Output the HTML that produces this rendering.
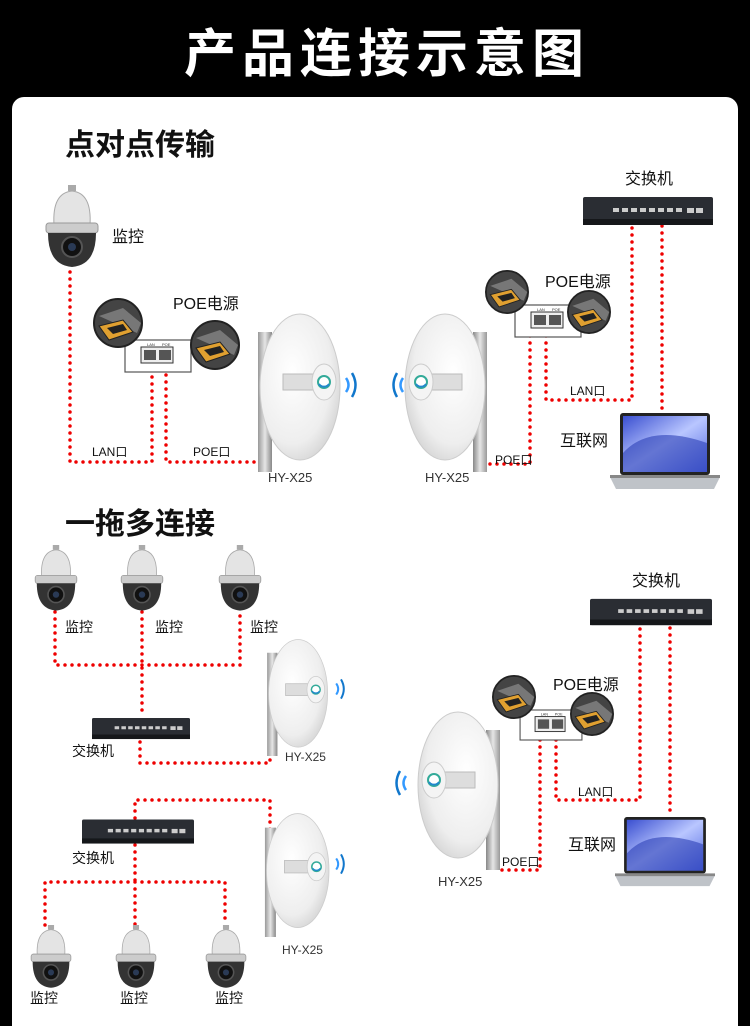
<!DOCTYPE html>
<html><head><meta charset="utf-8"><style>
html,body{margin:0;padding:0;background:#000;}
svg{display:block;}
text{font-family:"Liberation Sans","Noto Sans CJK SC",sans-serif;}
</style></head><body>
<svg width="750" height="1026" viewBox="0 0 750 1026" xmlns="http://www.w3.org/2000/svg">
<defs>
<radialGradient id="dg" cx="0.4" cy="0.4" r="0.7"><stop offset="0" stop-color="#ffffff"/><stop offset="0.7" stop-color="#eeeeee"/><stop offset="1" stop-color="#cfcfcf"/></radialGradient>
<linearGradient id="pg" x1="0" x2="1"><stop offset="0" stop-color="#999"/><stop offset="0.5" stop-color="#e6e6e6"/><stop offset="1" stop-color="#888"/></linearGradient>
<linearGradient id="scr" x1="0" y1="0" x2="1" y2="1"><stop offset="0" stop-color="#3a4fd0"/><stop offset="0.5" stop-color="#b9c6ff"/><stop offset="1" stop-color="#4f66e0"/></linearGradient>
<symbol id="cam" viewBox="0 0 60 85" overflow="visible">
<rect x="26" y="0" width="8" height="6" fill="#aaa"/>
<path d="M12 40 Q10 8 30 6 Q50 8 48 40 Z" fill="#e4e4e4" stroke="#aaa"/>
<rect x="4" y="38" width="52" height="10" rx="3" fill="#ccc" stroke="#999"/>
<path d="M6 48 Q6 80 30 82 Q54 80 54 48 Z" fill="#333"/>
<circle cx="30" cy="62" r="10" fill="#111" stroke="#555" stroke-width="2"/>
<circle cx="30" cy="62" r="4" fill="#2a3a55"/>
</symbol>
<symbol id="dish" viewBox="0 0 100 160" overflow="visible">
<rect x="0" y="20" width="14" height="140" fill="url(#pg)"/>
<ellipse cx="42" cy="75" rx="40" ry="73" fill="url(#dg)" stroke="#ccc"/>
<rect x="25" y="62" width="38" height="16" fill="#ddd" stroke="#bbb"/>
<ellipse cx="66" cy="70" rx="12" ry="18" fill="#f4f4f4" stroke="#ccc"/>
<circle cx="66" cy="70" r="6" fill="#fff" stroke="#3a9" stroke-width="2"/>
<path d="M61 72 A6 6 0 0 0 71 72" stroke="#28c" stroke-width="2" fill="none"/>
</symbol>
<symbol id="waves" viewBox="0 0 20 30" overflow="visible">
<path d="M4 8 Q9 15 4 22" stroke="#39f" stroke-width="2.5" fill="none"/>
<path d="M10 3 Q17 15 10 27" stroke="#17c" stroke-width="2.5" fill="none"/>
</symbol>
<symbol id="sw" viewBox="0 0 130 28" overflow="visible">
<rect x="0" y="0" width="130" height="28" rx="2" fill="#2a2d33"/>
<rect x="0" y="22" width="130" height="6" fill="#15171a"/>
<g fill="#ccc"><rect x="30" y="11" width="6" height="4"/><rect x="39" y="11" width="6" height="4"/><rect x="48" y="11" width="6" height="4"/><rect x="57" y="11" width="6" height="4"/><rect x="66" y="11" width="6" height="4"/><rect x="75" y="11" width="6" height="4"/><rect x="84" y="11" width="6" height="4"/><rect x="93" y="11" width="6" height="4"/><rect x="104" y="11" width="7" height="5"/><rect x="113" y="11" width="7" height="5"/></g>
</symbol>
<symbol id="lap" viewBox="0 0 110 78" overflow="visible">
<rect x="10" y="0" width="90" height="62" rx="3" fill="#222"/>
<rect x="13" y="3" width="84" height="56" fill="url(#scr)"/>
<path d="M13 40 Q40 10 97 30 L97 59 L13 59 Z" fill="#2b3fb5" opacity="0.6"/>
<path d="M0 64 L110 64 L104 76 L6 76 Z" fill="#bfc3c8"/>
<rect x="0" y="62" width="110" height="3" fill="#888"/>
</symbol>
<symbol id="poe" viewBox="0 0 66 32" overflow="visible">
<rect x="0" y="0" width="66" height="32" fill="#fff" stroke="#555" stroke-width="1.2"/>
<rect x="16" y="7" width="32" height="16" fill="#eee" stroke="#333"/>
<rect x="19" y="10" width="12" height="10" fill="#555"/><rect x="34" y="10" width="12" height="10" fill="#555"/>
<text x="22" y="6" font-size="4" fill="#333">LAN</text><text x="37" y="6" font-size="4" fill="#333">POE</text>
</symbol>
<symbol id="plug" viewBox="0 0 50 50" overflow="visible">
<circle cx="25" cy="25" r="24" fill="#444" stroke="#222" stroke-width="2"/>
<path d="M6 18 L30 10 L48 25 L44 35 Z" fill="#777"/>
<path d="M6 28 L30 22 L40 34 L16 42 Z" fill="#e0a030" stroke="#222"/>
<path d="M14 30 L30 26 L34 32 L20 36 Z" fill="#222"/>
</symbol>
</defs>

<rect width="750" height="1026" fill="#000"/>
<text x="387" y="72" font-size="52" font-weight="bold" fill="#fff" text-anchor="middle" letter-spacing="6">产品连接示意图</text>
<rect x="12" y="97" width="726" height="960" rx="12" fill="#fff"/>

<text x="65" y="155" font-size="30" font-weight="bold" fill="#111">点对点传输</text>
<text x="65" y="534" font-size="30" font-weight="bold" fill="#111">一拖多连接</text>

<g stroke="#e00" stroke-width="3.5" stroke-linecap="round" stroke-dasharray="0 7" fill="none">
<path d="M70 272 L70 462 L152 462 L152 368"/>
<path d="M166 368 L166 462 L265 462"/>
<path d="M530 336 L530 464 L485 464"/>
<path d="M546 336 L546 400 L632 400 L632 226"/>
<path d="M662 226 L662 412"/>
<path d="M55 612 L55 665 L240 665 L240 612"/>
<path d="M142 612 L142 715"/>
<path d="M140 742 L140 763 L270 763 L270 745"/>
<path d="M135 818 L135 800 L270 800 L270 830"/>
<path d="M135 845 L135 882 M45 925 L45 882 L225 882 L225 925 M135 882 L135 925"/>
<path d="M540 740 L540 870 L495 870"/>
<path d="M556 740 L556 800 L640 800 L640 628"/>
<path d="M670 628 L670 816"/>
</g>

<use href="#cam" x="42" y="185" width="60" height="85"/>
<text x="112" y="242" font-size="16" fill="#111">监控</text>
<use href="#poe" x="125" y="340" width="66" height="32"/>
<use href="#plug" x="93" y="298" width="50" height="50"/>
<use href="#plug" x="190" y="320" width="50" height="50"/>
<text x="173" y="309" font-size="16" fill="#111">POE电源</text>
<text x="92" y="456" font-size="12" fill="#111">LAN口</text>
<text x="193" y="456" font-size="12" fill="#111">POE口</text>
<use href="#dish" x="258" y="312" width="100" height="160"/>
<use href="#waves" x="342" y="370" width="20" height="30"/>
<text x="268" y="482" font-size="13" fill="#333">HY-X25</text>
<g transform="translate(487,0) scale(-1,1)"><use href="#dish" x="0" y="312" width="100" height="160"/></g>
<g transform="translate(1152,0) scale(-1,1)"><use href="#waves" x="745" y="370" width="20" height="30"/></g>
<text x="425" y="482" font-size="13" fill="#333">HY-X25</text>

<use href="#sw" x="583" y="197" width="130" height="28"/>
<text x="625" y="184" font-size="16" fill="#111">交换机</text>
<use href="#poe" x="515" y="305" width="66" height="32"/>
<use href="#plug" x="485" y="270" width="44" height="44"/>
<use href="#plug" x="567" y="290" width="44" height="44"/>
<text x="545" y="287" font-size="16" fill="#111">POE电源</text>
<text x="570" y="395" font-size="12" fill="#111">LAN口</text>
<text x="495" y="464" font-size="12" fill="#111">POE口</text>
<use href="#lap" x="610" y="413" width="110" height="78"/>
<text x="560" y="446" font-size="16" fill="#111">互联网</text>

<use href="#cam" x="32" y="545" width="48" height="68"/>
<use href="#cam" x="118" y="545" width="48" height="68"/>
<use href="#cam" x="216" y="545" width="48" height="68"/>
<text x="65" y="632" font-size="14" fill="#111">监控</text>
<text x="155" y="632" font-size="14" fill="#111">监控</text>
<text x="250" y="632" font-size="14" fill="#111">监控</text>
<use href="#sw" x="92" y="715" width="98" height="27"/>
<text x="72" y="756" font-size="14" fill="#111">交换机</text>
<use href="#dish" x="264" y="638" width="80" height="118"/>
<use href="#waves" x="333" y="677" width="16" height="24"/>
<text x="285" y="761" font-size="12" fill="#333">HY-X25</text>

<use href="#sw" x="82" y="818" width="112" height="27"/>
<text x="72" y="863" font-size="14" fill="#111">交换机</text>
<use href="#dish" x="264" y="812" width="80" height="125"/>
<use href="#waves" x="333" y="852" width="16" height="24"/>
<text x="282" y="954" font-size="12" fill="#333">HY-X25</text>
<use href="#cam" x="28" y="925" width="46" height="65"/>
<use href="#cam" x="113" y="925" width="46" height="65"/>
<use href="#cam" x="203" y="925" width="46" height="65"/>
<text x="30" y="1003" font-size="14" fill="#111">监控</text>
<text x="120" y="1003" font-size="14" fill="#111">监控</text>
<text x="215" y="1003" font-size="14" fill="#111">监控</text>

<use href="#sw" x="590" y="598" width="122" height="28"/>
<text x="632" y="586" font-size="16" fill="#111">交换机</text>
<use href="#poe" x="520" y="710" width="62" height="30"/>
<use href="#plug" x="492" y="675" width="44" height="44"/>
<use href="#plug" x="570" y="692" width="44" height="44"/>
<text x="553" y="690" font-size="16" fill="#111">POE电源</text>
<text x="578" y="796" font-size="12" fill="#111">LAN口</text>
<text x="502" y="866" font-size="12" fill="#111">POE口</text>
<g transform="translate(500,0) scale(-1,1)"><use href="#dish" x="0" y="710" width="100" height="160"/></g>
<g transform="translate(800,0) scale(-1,1)"><use href="#waves" x="390" y="768" width="20" height="30"/></g>
<text x="438" y="886" font-size="13" fill="#333">HY-X25</text>
<use href="#lap" x="615" y="815" width="100" height="75"/>
<text x="568" y="850" font-size="16" fill="#111">互联网</text>
</svg>
</body></html>
